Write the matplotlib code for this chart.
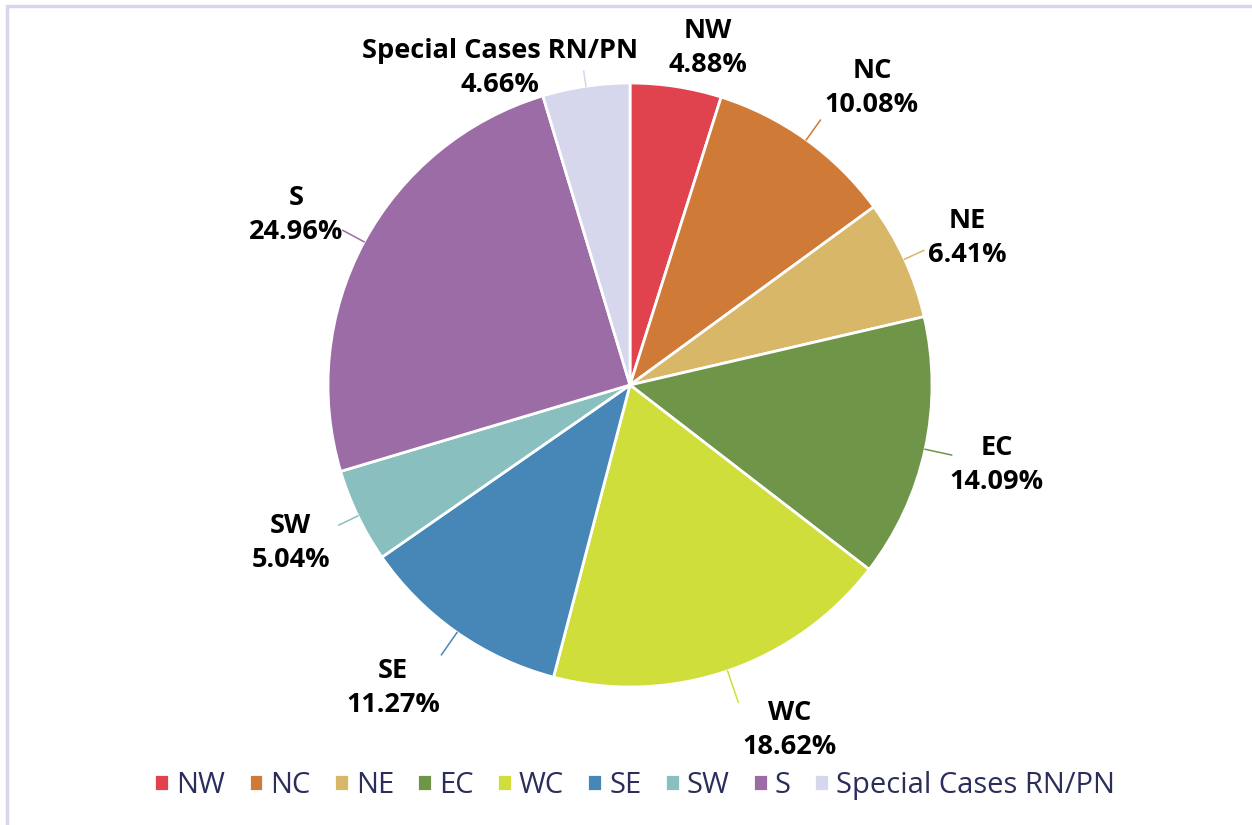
import matplotlib.pyplot as plt
import numpy as np
from matplotlib.patches import Rectangle

# datos del gráfico
regions = ["NW", "NC", "NE", "EC", "WC", "SE", "SW", "S", "Special Cases RN/PN"]
shares = [4.88, 10.08, 6.41, 14.09, 18.62, 11.27, 5.04, 24.96, 4.66]
colors = ["#E0434E", "#CF7A37", "#D8B868", "#6F9548", "#CFDE3A",
          "#4787B8", "#8ABFC0", "#9C6CA6", "#D6D7EC"]

# posicion de cada etiqueta (en radios del pie, respecto al centro)
label_pos = [(0.258, 1.116), (0.801, 0.983), (1.116, 0.487), (1.215, -0.265),
             (0.530, -1.142), (-0.785, -1.003), (-1.123, -0.523),
             (-1.106, 0.563), (-0.430, 1.050)]
# largo de la linea guia (0 = sin linea)
leader = [0, 1.08, 1.07, 1.09, 1.11, 1.09, 1.07, 1.08, 1.05]

W, H = 1252, 825
cx, cy, R = 630, 385, 302

fig = plt.figure(figsize=(W / 100, H / 100), dpi=100)
fig.patches.append(Rectangle((7 / W, -0.5), 2, 1 - 6 / H + 0.5, transform=fig.transFigure,
                             fill=False, edgecolor="#D6D6EE", linewidth=2.5))

ax = fig.add_axes([0, 0, 1, 1])
wedges, _ = ax.pie(shares, colors=colors, startangle=90, counterclock=False,
                   wedgeprops=dict(edgecolor="white", linewidth=2))
ax.set_xlim(-cx / R, (W - cx) / R)
ax.set_ylim(-(H - cy) / R, cy / R)
ax.set_aspect("auto")
ax.axis("off")

#Etiquetas y lineas guia
for w, name, val, (lx, ly), col, r2 in zip(wedges, regions, shares, label_pos, colors, leader):
    ang = np.deg2rad((w.theta1 + w.theta2) / 2)
    x0, y0 = np.cos(ang), np.sin(ang)
    if r2 > 0:
        ax.plot([x0, x0 * r2], [y0, y0 * r2], color=col, linewidth=1.1)
    ax.text(lx, ly, f"{name}\n{val:.2f}%", ha="center", va="center",
            fontsize=19.5, fontweight="bold", family="Open Sans", color="black",
            linespacing=1.4)

leg = fig.legend(wedges, regions, loc="center", bbox_to_anchor=(0.507, 0.048),
                 ncol=9, frameon=False, handlelength=0.5, handleheight=0.5,
                 handletextpad=0.25, columnspacing=0.8,
                 prop=dict(family="Open Sans", size=21))
for t in leg.get_texts():
    t.set_color("#2B2D5B")

fig.savefig("out.png", dpi=100)
